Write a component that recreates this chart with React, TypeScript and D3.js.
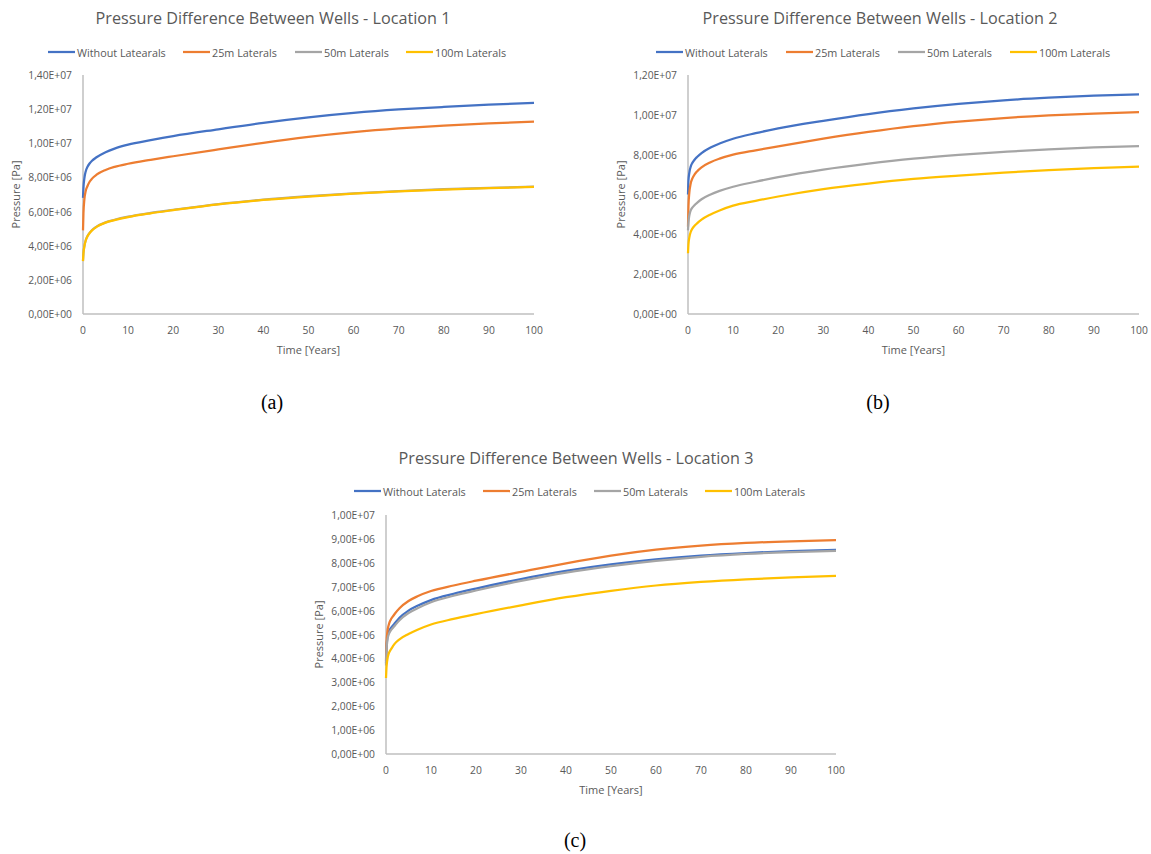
import React from "react";
import * as d3 from "d3";

// ---------- DATA ----------
const TIME = [0, 0.1, 0.3, 0.6, 1, 1.5, 2, 3, 5, 7, 10, 15, 20, 30, 40, 50, 60, 70, 80, 90, 100];
const X_TICKS = [0, 10, 20, 30, 40, 50, 60, 70, 80, 90, 100];

const SERIES_NAMES_1 = ["Without Latearals", "25m Laterals", "50m Laterals", "100m Laterals"];
const SERIES_NAMES_2 = ["Without Laterals", "25m Laterals", "50m Laterals", "100m Laterals"];
const SERIES_NAMES_3 = ["Without Laterals", "25m Laterals", "50m Laterals", "100m Laterals"];

// Location 1 (values in 1e6 Pa)
const L1_WITHOUT = [6.8, 7.4, 7.95, 8.35, 8.62, 8.83, 8.98, 9.18, 9.48, 9.69, 9.92, 10.18, 10.42, 10.82, 11.2, 11.52, 11.78, 11.98, 12.13, 12.26, 12.36];
const L1_25M = [4.9, 5.9, 6.7, 7.2, 7.5, 7.76, 7.93, 8.16, 8.44, 8.62, 8.8, 9.03, 9.24, 9.64, 10.03, 10.37, 10.65, 10.87, 11.04, 11.17, 11.27];
const L1_50M = [3.12, 3.57, 3.97, 4.32, 4.57, 4.77, 4.92, 5.12, 5.37, 5.52, 5.7, 5.92, 6.1, 6.44, 6.7, 6.9, 7.07, 7.2, 7.31, 7.39, 7.46];
const L1_100M = [3.1, 3.55, 3.95, 4.3, 4.55, 4.75, 4.9, 5.1, 5.35, 5.5, 5.68, 5.9, 6.08, 6.42, 6.68, 6.88, 7.05, 7.18, 7.29, 7.37, 7.44];

// Location 2
const L2_WITHOUT = [6.0, 6.7, 7.1, 7.4, 7.6, 7.76, 7.88, 8.08, 8.36, 8.56, 8.8, 9.08, 9.32, 9.7, 10.04, 10.32, 10.55, 10.73, 10.86, 10.96, 11.03];
const L2_25M = [4.38, 5.4, 6.1, 6.55, 6.82, 7.02, 7.16, 7.36, 7.62, 7.8, 8.0, 8.22, 8.42, 8.8, 9.14, 9.43, 9.66, 9.84, 9.97, 10.06, 10.13];
const L2_50M = [4.2, 4.6, 4.95, 5.2, 5.35, 5.48, 5.58, 5.76, 6.0, 6.18, 6.39, 6.64, 6.87, 7.25, 7.55, 7.8, 7.99, 8.14, 8.27, 8.36, 8.43];
const L2_100M = [3.05, 3.5, 3.85, 4.12, 4.3, 4.44, 4.55, 4.74, 5.0, 5.2, 5.44, 5.68, 5.9, 6.27, 6.55, 6.78, 6.95, 7.1, 7.22, 7.32, 7.4];

// Location 3
const L3_WITHOUT = [3.8, 4.4, 4.85, 5.1, 5.25, 5.37, 5.48, 5.7, 6.0, 6.2, 6.44, 6.7, 6.92, 7.32, 7.66, 7.93, 8.14, 8.3, 8.41, 8.49, 8.54];
const L3_25M = [3.9, 4.6, 5.1, 5.4, 5.6, 5.75, 5.88, 6.1, 6.4, 6.6, 6.82, 7.05, 7.25, 7.62, 7.98, 8.3, 8.55, 8.72, 8.83, 8.9, 8.95];
const L3_50M = [3.7, 4.3, 4.75, 5.0, 5.15, 5.27, 5.38, 5.6, 5.9, 6.1, 6.35, 6.62, 6.84, 7.24, 7.59, 7.86, 8.08, 8.25, 8.37, 8.45, 8.5];
const L3_100M = [3.18, 3.6, 3.95, 4.2, 4.35, 4.5, 4.63, 4.8, 5.02, 5.2, 5.42, 5.65, 5.85, 6.22, 6.56, 6.83, 7.05, 7.2, 7.31, 7.39, 7.45];

const Y_TICKS_1 = [0, 2e6, 4e6, 6e6, 8e6, 10e6, 12e6, 14e6];
const Y_TICKS_2 = [0, 2e6, 4e6, 6e6, 8e6, 10e6, 12e6];
const Y_TICKS_3 = [0, 1e6, 2e6, 3e6, 4e6, 5e6, 6e6, 7e6, 8e6, 9e6, 10e6];

const COLORS = ["#4472C4", "#ED7D31", "#A5A5A5", "#FFC000"];
const TEXT = "#595959";
const AXIS = "#BFBFBF";
const FONT = "'Open Sans', 'Liberation Sans', sans-serif";

function fmtSci(v: number): string {
  if (v === 0) return "0,00E+00";
  const e = Math.floor(Math.log10(v) + 1e-9);
  const m = v / Math.pow(10, e);
  return m.toFixed(2).replace(".", ",") + "E+" + String(e).padStart(2, "0");
}

type PanelProps = {
  title: string;
  titleX: number;
  titleY: number;
  legendY: number;
  legendLineX: number[];
  names: string[];
  series: number[][];
  x0: number;
  x1: number;
  yTop: number;
  yBottom: number;
  yTicks: number[];
  yTitleX: number;
};

function Panel(p: PanelProps) {
  const x = d3.scaleLinear().domain([0, 100]).range([p.x0, p.x1]);
  const y = d3
    .scaleLinear()
    .domain([0, p.yTicks[p.yTicks.length - 1]])
    .range([p.yBottom, p.yTop]);
  const line = d3
    .line<number>()
    .x((_, i) => x(TIME[i]))
    .y((d) => y(d * 1e6))
    .curve(d3.curveMonotoneX);
  return (
    <g>
      <text x={p.titleX} y={p.titleY} textAnchor="middle" dominantBaseline="central" fontSize={16.2} fill={TEXT} fontFamily={FONT}>
        {p.title}
      </text>
      {p.names.map((n, i) => (
        <g key={n}>
          <line x1={p.legendLineX[i]} x2={p.legendLineX[i] + 27} y1={p.legendY} y2={p.legendY} stroke={COLORS[i]} strokeWidth={2.25} />
          <text x={p.legendLineX[i] + 29} y={p.legendY} dominantBaseline="central" fontSize={10.8} fill={TEXT} fontFamily={FONT}>
            {n}
          </text>
        </g>
      ))}
      {p.yTicks.map((t) => (
        <text key={t} x={p.x0 - 11} y={y(t)} textAnchor="end" dominantBaseline="central" fontSize={10.3} fill={TEXT} fontFamily={FONT}>
          {fmtSci(t)}
        </text>
      ))}
      {X_TICKS.map((t) => (
        <text key={t} x={x(t)} y={p.yBottom + 16} textAnchor="middle" dominantBaseline="central" fontSize={10.3} fill={TEXT} fontFamily={FONT}>
          {t}
        </text>
      ))}
      <line x1={p.x0} x2={p.x0} y1={p.yTop} y2={p.yBottom} stroke={AXIS} strokeWidth={1.5} />
      <line x1={p.x0} x2={p.x1} y1={p.yBottom} y2={p.yBottom} stroke={AXIS} strokeWidth={1.5} />
      <text x={(p.x0 + p.x1) / 2} y={p.yBottom + 35} textAnchor="middle" dominantBaseline="central" fontSize={11} fill={TEXT} fontFamily={FONT}>
        Time [Years]
      </text>
      <text
        transform={`translate(${p.yTitleX},${(p.yTop + p.yBottom) / 2}) rotate(-90)`}
        textAnchor="middle"
        dominantBaseline="central"
        fontSize={11}
        fill={TEXT}
        fontFamily={FONT}
      >
        Pressure [Pa]
      </text>
      {p.series.map((s, i) => (
        <path key={i} d={line(s) || ""} fill="none" stroke={COLORS[i]} strokeWidth={2.25} strokeLinejoin="round" />
      ))}
    </g>
  );
}

export default function App() {
  return (
    <svg width={1151} height={854} style={{ position: "absolute", left: 0, top: 0, background: "#fff" }}>
      <rect width={1151} height={854} fill="#fff" />
      <Panel
        title="Pressure Difference Between Wells - Location 1"
        titleX={273}
        titleY={18}
        legendY={52}
        legendLineX={[48, 183, 295, 406]}
        names={SERIES_NAMES_1}
        series={[L1_WITHOUT, L1_25M, L1_50M, L1_100M]}
        x0={83}
        x1={534}
        yTop={75}
        yBottom={314}
        yTicks={Y_TICKS_1}
        yTitleX={15}
      />
      <Panel
        title="Pressure Difference Between Wells - Location 2"
        titleX={880}
        titleY={18}
        legendY={52}
        legendLineX={[656, 786, 898, 1010]}
        names={SERIES_NAMES_2}
        series={[L2_WITHOUT, L2_25M, L2_50M, L2_100M]}
        x0={688}
        x1={1139}
        yTop={75}
        yBottom={314}
        yTicks={Y_TICKS_2}
        yTitleX={620}
      />
      <Panel
        title="Pressure Difference Between Wells - Location 3"
        titleX={576}
        titleY={458}
        legendY={491}
        legendLineX={[354, 483, 594, 705]}
        names={SERIES_NAMES_3}
        series={[L3_WITHOUT, L3_25M, L3_50M, L3_100M]}
        x0={386}
        x1={836}
        yTop={515}
        yBottom={754}
        yTicks={Y_TICKS_3}
        yTitleX={318}
      />
      <text x={272} y={402} textAnchor="middle" dominantBaseline="central" fontSize={20} fontFamily="'Liberation Serif', serif" fill="#000">(a)</text>
      <text x={878} y={402} textAnchor="middle" dominantBaseline="central" fontSize={20} fontFamily="'Liberation Serif', serif" fill="#000">(b)</text>
      <text x={575} y={840} textAnchor="middle" dominantBaseline="central" fontSize={20} fontFamily="'Liberation Serif', serif" fill="#000">(c)</text>
    </svg>
  );
}
